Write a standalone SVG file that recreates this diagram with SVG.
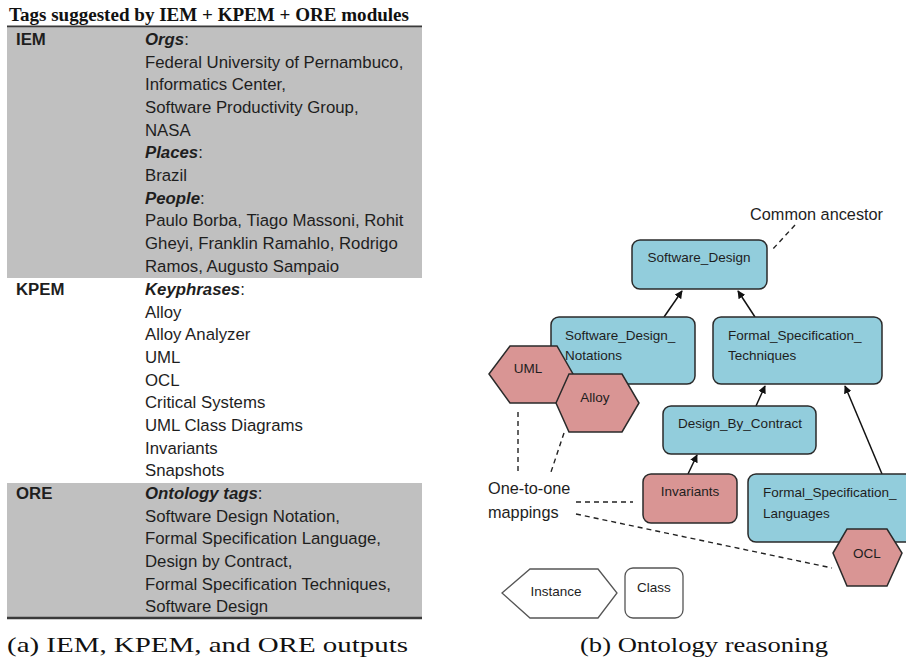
<svg xmlns="http://www.w3.org/2000/svg" width="906" height="660" viewBox="0 0 906 660">
<defs>
<style>
.t{font-family:"Liberation Sans",Arial,sans-serif;font-size:16.8px;fill:#1e1e1e}
.b{font-weight:bold}
.bi{font-weight:bold;font-style:italic}
.n{font-family:"Liberation Sans",Arial,sans-serif;font-size:13.5px;fill:#1e1e1e}
.lbl{font-family:"Liberation Sans",Arial,sans-serif;font-size:16.3px;fill:#1e1e1e}
.cls{fill:#92CDDC;stroke:#2a2a2a;stroke-width:1.5}
.inst{fill:#D99594;stroke:#2a2a2a;stroke-width:1.5}
.leg{fill:#ffffff;stroke:#555;stroke-width:1.3}
.edge{stroke:#111;stroke-width:1.5;fill:none}
.dash{stroke:#222;stroke-width:1.4;fill:none;stroke-dasharray:5,4}
.cap{font-family:"Liberation Serif","Times New Roman",serif;font-size:22px;fill:#111}
</style>
<marker id="arr" viewBox="0 0 10 10" refX="9" refY="5" markerWidth="8" markerHeight="8" markerUnits="userSpaceOnUse" orient="auto">
<path d="M0,0 L10,5 L0,10 z" fill="#111"/>
</marker>
</defs>
<rect width="906" height="660" fill="#ffffff"/>

<!-- Table (a) -->
<g id="table">
<text x="9" y="21" font-family="'Liberation Serif','Times New Roman',serif" font-size="18" font-weight="bold" fill="#111" textLength="400" lengthAdjust="spacingAndGlyphs">Tags suggested by IEM + KPEM + ORE modules</text>
<rect x="7" y="28" width="415" height="250" fill="#C0C0C0"/>
<rect x="7" y="483" width="415" height="134" fill="#C0C0C0"/>
<line x1="7" y1="26.5" x2="422" y2="26.5" stroke="#3a3a3a" stroke-width="2"/>
<line x1="7" y1="618" x2="422" y2="618" stroke="#3a3a3a" stroke-width="2.5"/>
<g class="t">
<text x="16" y="45" class="b">IEM</text>
<text x="145" y="45"><tspan class="bi">Orgs</tspan>:</text>
<text x="145" y="67.7">Federal University of Pernambuco,</text>
<text x="145" y="90.3">Informatics Center,</text>
<text x="145" y="113">Software Productivity Group,</text>
<text x="145" y="135.6">NASA</text>
<text x="145" y="158.3"><tspan class="bi">Places</tspan>:</text>
<text x="145" y="180.9">Brazil</text>
<text x="145" y="203.6"><tspan class="bi">People</tspan>:</text>
<text x="145" y="226.2">Paulo Borba, Tiago Massoni, Rohit</text>
<text x="145" y="248.9">Gheyi, Franklin Ramahlo, Rodrigo</text>
<text x="145" y="271.5">Ramos, Augusto Sampaio</text>
<text x="16" y="295" class="b">KPEM</text>
<text x="145" y="295"><tspan class="bi">Keyphrases</tspan>:</text>
<text x="145" y="317.6">Alloy</text>
<text x="145" y="340.3">Alloy Analyzer</text>
<text x="145" y="363">UML</text>
<text x="145" y="385.6">OCL</text>
<text x="145" y="408.3">Critical Systems</text>
<text x="145" y="430.9">UML Class Diagrams</text>
<text x="145" y="453.6">Invariants</text>
<text x="145" y="476.2">Snapshots</text>
<text x="16" y="499" class="b">ORE</text>
<text x="145" y="499"><tspan class="bi">Ontology tags</tspan>:</text>
<text x="145" y="521.6">Software Design Notation,</text>
<text x="145" y="544.3">Formal Specification Language,</text>
<text x="145" y="566.9">Design by Contract,</text>
<text x="145" y="589.6">Formal Specification Techniques,</text>
<text x="145" y="612.2">Software Design</text>
</g>
</g>

<!-- Connectors (b) -->
<g id="connectors">
<line class="edge" x1="664" y1="317" x2="682" y2="291" marker-end="url(#arr)"/>
<line class="edge" x1="755" y1="317" x2="738" y2="291" marker-end="url(#arr)"/>
<line class="edge" x1="756" y1="406" x2="765" y2="386" marker-end="url(#arr)"/>
<line class="edge" x1="882" y1="474" x2="845" y2="386" marker-end="url(#arr)"/>
<line class="edge" x1="688" y1="474" x2="697" y2="455" marker-end="url(#arr)"/>
<line class="dash" x1="795" y1="225" x2="772" y2="250"/>
<line class="dash" x1="518" y1="412" x2="518" y2="474"/>
<line class="dash" x1="564" y1="433" x2="550" y2="475"/>
<line class="dash" x1="576" y1="502" x2="633" y2="502"/>
<line class="dash" x1="576" y1="514" x2="832" y2="568"/>
</g>

<g id="label-common-ancestor"><text class="lbl" x="750" y="220">Common ancestor</text></g>
<g id="label-mappings">
<text class="lbl" x="488" y="494">One-to-one</text>
<text class="lbl" x="488" y="518">mappings</text>
</g>

<g id="n-software-design">
<rect class="cls" x="632" y="240" width="135" height="49" rx="8"/>
<text class="n" x="699" y="262" text-anchor="middle">Software_Design</text>
</g>
<g id="n-sdn">
<rect class="cls" x="551" y="317" width="144" height="67" rx="8"/>
<text class="n" x="565" y="340">Software_Design_</text>
<text class="n" x="565" y="360">Notations</text>
</g>
<g id="n-fst">
<rect class="cls" x="713" y="317" width="169" height="67" rx="8"/>
<text class="n" x="728" y="340">Formal_Specification_</text>
<text class="n" x="728" y="360">Techniques</text>
</g>
<g id="n-uml">
<polygon class="inst" points="489,374 510,346 557,346 573,374 557,403 510,403"/>
<text class="n" x="528" y="373" text-anchor="middle">UML</text>
</g>
<g id="n-alloy">
<polygon class="inst" points="556,403 569,374 622,374 639,403 622,432 569,432"/>
<text class="n" x="595" y="402" text-anchor="middle">Alloy</text>
</g>
<g id="n-dbc">
<rect class="cls" x="663" y="406" width="153" height="48" rx="8"/>
<text class="n" x="740" y="428" text-anchor="middle">Design_By_Contract</text>
</g>
<g id="n-invariants">
<rect class="inst" x="643" y="474" width="94" height="49" rx="8"/>
<text class="n" x="690" y="496" text-anchor="middle">Invariants</text>
</g>
<g id="n-fsl">
<rect class="cls" x="748" y="474" width="168" height="68" rx="8"/>
<text class="n" x="763" y="497">Formal_Specification_</text>
<text class="n" x="763" y="518">Languages</text>
</g>
<g id="n-ocl">
<polygon class="inst" points="833,553 847,529 887,529 902,553 887,586 847,586"/>
<text class="n" x="867" y="558" text-anchor="middle">OCL</text>
</g>
<g id="legend-instance">
<polygon class="leg" points="502,593 530,569 598,569 617,593 598,618 530,618"/>
<text class="n" x="556" y="596" text-anchor="middle">Instance</text>
</g>
<g id="legend-class">
<rect class="leg" x="625" y="568" width="58" height="50" rx="8"/>
<text class="n" x="654" y="592" text-anchor="middle">Class</text>
</g>

<text class="cap" x="7" y="652" textLength="401" lengthAdjust="spacingAndGlyphs">(a) IEM, KPEM, and ORE outputs</text>
<text class="cap" x="580" y="652" textLength="248" lengthAdjust="spacingAndGlyphs">(b) Ontology reasoning</text>
</svg>
